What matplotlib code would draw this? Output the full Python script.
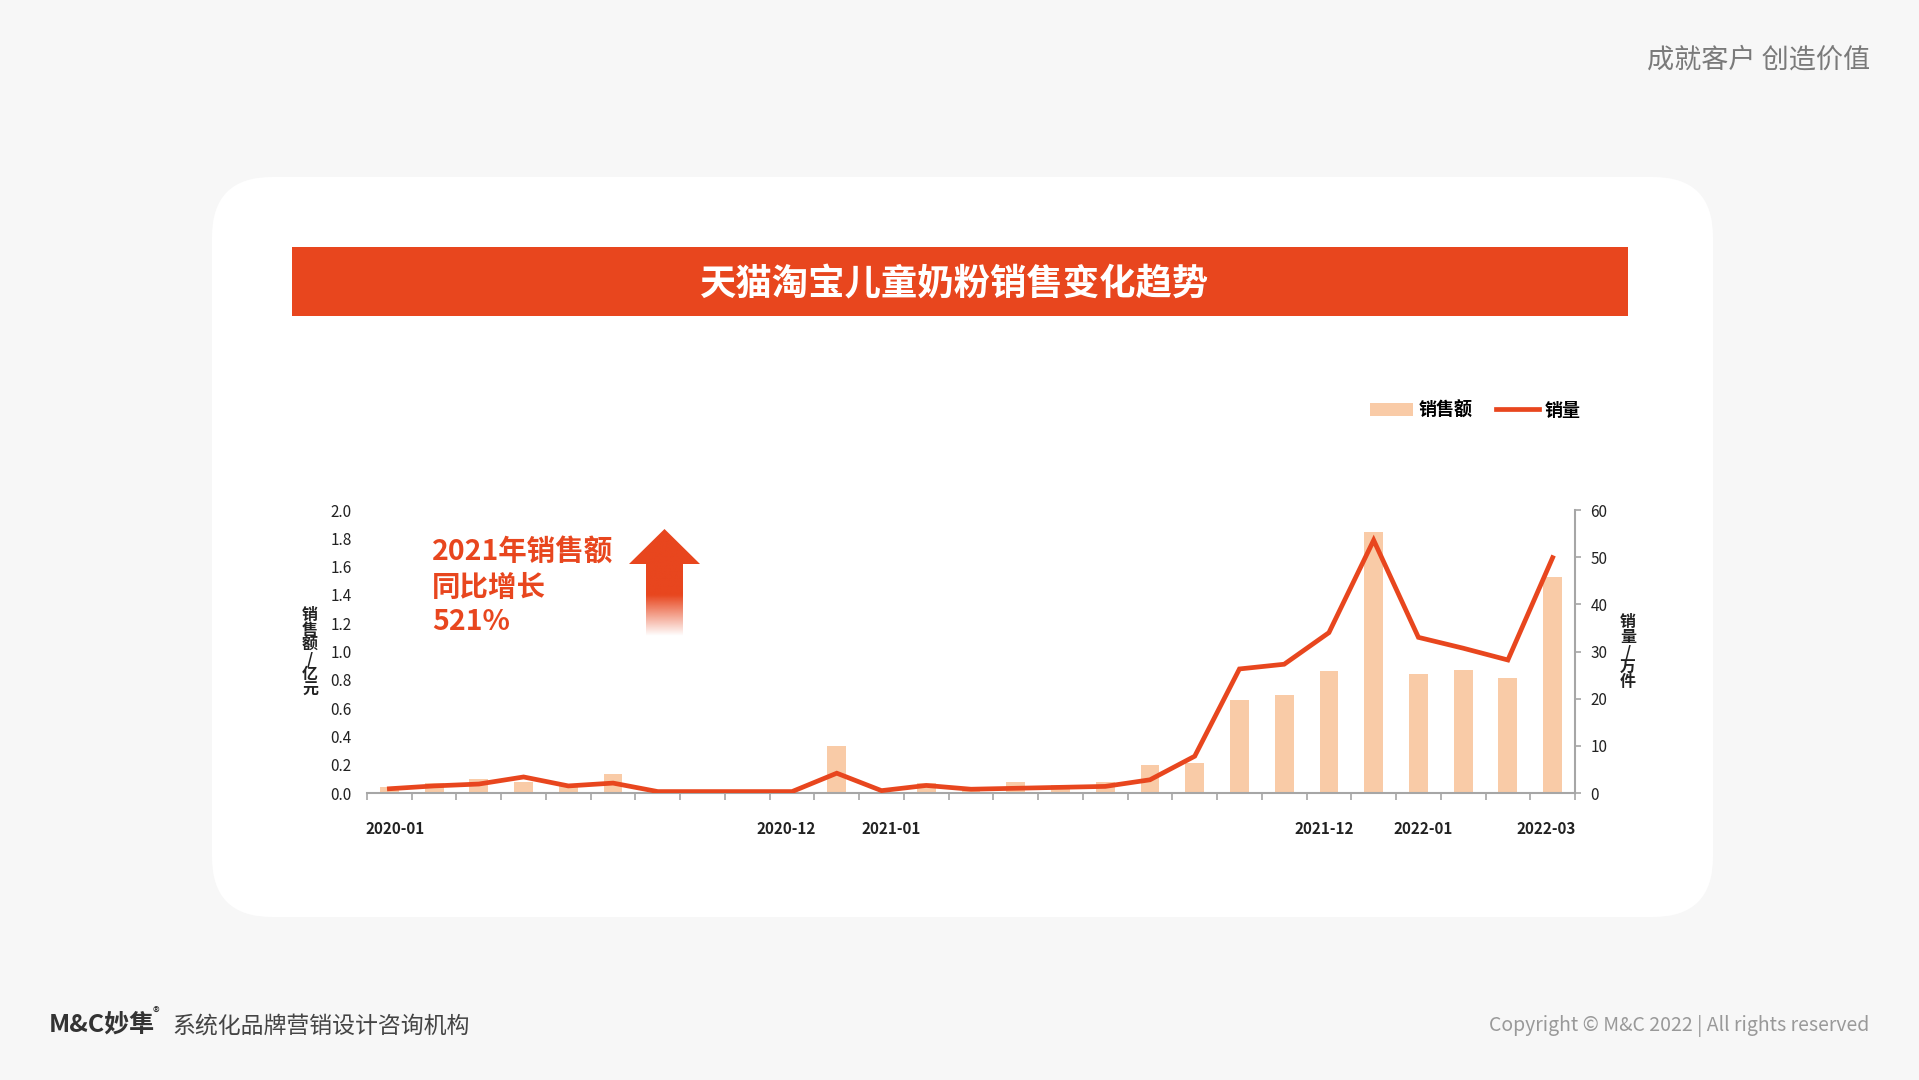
import matplotlib
matplotlib.use('Agg')
import matplotlib.pyplot as plt
import numpy as np
from matplotlib.patches import FancyBboxPatch, Rectangle, Polygon
from matplotlib.colors import to_rgb

plt.rcParams['font.family'] = ['Noto Sans CJK SC', 'DejaVu Sans']

# 数据：2020-01 ~ 2022-03 每月
sales = [0.04, 0.07, 0.10, 0.075, 0.065, 0.135, 0.0, 0.0, 0.0, 0.0, 0.335, 0.0, 0.07,
         0.04, 0.075, 0.06, 0.075, 0.195, 0.21, 0.66, 0.69, 0.865, 1.845, 0.84, 0.87,
         0.81, 1.53]          # 销售额 / 亿元
volume = [0.9, 1.5, 1.9, 3.4, 1.5, 2.1, 0.3, 0.3, 0.3, 0.3, 4.2, 0.5, 1.6,
          0.8, 1.0, 1.2, 1.4, 2.8, 7.8, 26.3, 27.3, 34.0, 53.6, 33.0, 30.7,
          28.2, 49.9]         # 销量 / 万件
shown_labels = ['2020-01', '2020-12', '2021-01', '2021-12', '2022-01', '2022-03']
label_pos = [0.13, 8.87, 11.21, 20.89, 23.1, 25.85]   # 原图标签位置（类别单位）
left_ticks = [0.0, 0.2, 0.4, 0.6, 0.8, 1.0, 1.2, 1.4, 1.6, 1.8, 2.0]
right_ticks = [0, 10, 20, 30, 40, 50, 60]

RED = '#E8461E'
PEACH = '#F9CBA7'
GREY = '#A6A6A6'

W, H = 1919, 1080
fig = plt.figure(figsize=(W / 100, H / 100), dpi=100, facecolor='#F7F7F7')

# 背景层，像素坐标
bg = fig.add_axes([0, 0, 1, 1])
bg.set_xlim(0, W)
bg.set_ylim(H, 0)
bg.axis('off')

card = FancyBboxPatch((212 + 60, 177 + 60), 1501 - 120, 740 - 120,
                      boxstyle='round,pad=60', fc='white', ec='none')
bg.add_patch(card)
bg.add_patch(Rectangle((292, 247), 1336, 69, fc=RED, ec='none'))
bg.text(955, 285, '天猫淘宝儿童奶粉销售变化趋势', color='white', fontsize=26.2,
        fontweight='bold', ha='center', va='center')

bg.text(1870, 60, '成就客户 创造价值', color='#7A7A7A', fontsize=19.5, ha='right', va='center')
bg.text(49, 1025, 'M&C妙隼', color='#333333', fontsize=18, fontweight='bold', ha='left', va='center')
bg.text(153, 1014, '®', color='#333333', fontsize=10, ha='left', va='center')
bg.text(172, 1026, '系统化品牌营销设计咨询机构', color='#444444', fontsize=16.5, ha='left', va='center')
bg.text(1869, 1026, 'Copyright © M&C 2022 | All rights reserved', color='#999999',
        fontsize=14, ha='right', va='center')

# 注释文字
bg.text(432, 553, '2021年销售额', color=RED, fontsize=20.5, fontweight='bold', ha='left', va='center')
bg.text(432, 588, '同比增长', color=RED, fontsize=20.5, fontweight='bold', ha='left', va='center')
bg.text(432, 622, '521%', color=RED, fontsize=20.5, fontweight='bold', ha='left', va='center')

# 渐变箭头
arrow_pts = [(664.5, 529), (700, 564), (683, 564), (683, 636), (646, 636), (646, 564), (629, 564)]
arrow = Polygon(arrow_pts, closed=True, fc='none', ec='none')
bg.add_patch(arrow)
ys = np.linspace(529, 636, 200)
alpha = np.clip((636 - ys) / (636 - 595), 0, 1)
grad = np.zeros((200, 2, 4))
grad[:, :, :3] = to_rgb(RED)
grad[:, :, 3] = alpha[:, None]
im = bg.imshow(grad, extent=(629, 700, 636, 529), aspect='auto', interpolation='bilinear', zorder=5)
im.set_clip_path(arrow)
bg.set_xlim(0, W)
bg.set_ylim(H, 0)

# 图表
ax = fig.add_axes([367 / W, 1 - 793 / H, (1575 - 367) / W, (793 - 510) / H])
ax.set_facecolor('none')
x = np.arange(len(sales))
bars = ax.bar(x, sales, width=0.42, color=PEACH, zorder=2)
ax.set_xlim(-0.5, len(sales) - 0.5)
ax.set_ylim(0, 2.0)
ax.set_yticks(left_ticks)
ax.set_yticklabels([f'{v:.1f}' for v in left_ticks])
ax.tick_params(axis='y', length=0, pad=11, labelsize=11, colors='#222222')
ax.set_xticks(label_pos)
ax.set_xticklabels(shown_labels, fontsize=11, fontweight='bold', color='#222222')
ax.tick_params(axis='x', which='major', length=0, pad=20)
ax.set_xticks(np.arange(-0.5, len(sales)), minor=True)
ax.tick_params(axis='x', which='minor', length=5, width=1.2, color=GREY, direction='out')
for s in ['top', 'left', 'right']:
    ax.spines[s].set_visible(False)
ax.spines['bottom'].set_color(GREY)
ax.spines['bottom'].set_linewidth(1.5)

ax2 = ax.twinx()
line, = ax2.plot(x, volume, color=RED, lw=3.4, solid_joinstyle='miter', zorder=3)
ax2.set_ylim(0, 60)
ax2.set_yticks(right_ticks)
ax2.tick_params(axis='y', length=4, width=1.2, color=GREY, pad=7, labelsize=11, labelcolor='#222222')
for s in ['top', 'left', 'bottom']:
    ax2.spines[s].set_visible(False)
ax2.spines['right'].set_color(GREY)
ax2.spines['right'].set_linewidth(1.5)

# 轴标题（竖排）
bg.text(310, 652, '\n'.join('销售额/亿元'), fontsize=11.5, fontweight='bold', color='#222222',
        ha='center', va='center', linespacing=0.92)
bg.text(1628, 652, '\n'.join('销量/万件'), fontsize=11.5, fontweight='bold', color='#222222',
        ha='center', va='center', linespacing=0.92)

fig.legend([bars, line], ['销售额', '销量'], ncol=2, frameon=False, loc='center',
           bbox_to_anchor=(1475 / W, 1 - 410 / H), handlelength=2.4, handletextpad=0.3,
           columnspacing=1.3, prop={'size': 13, 'weight': 'bold'})

fig.savefig('out.png', dpi=100, facecolor=fig.get_facecolor())
